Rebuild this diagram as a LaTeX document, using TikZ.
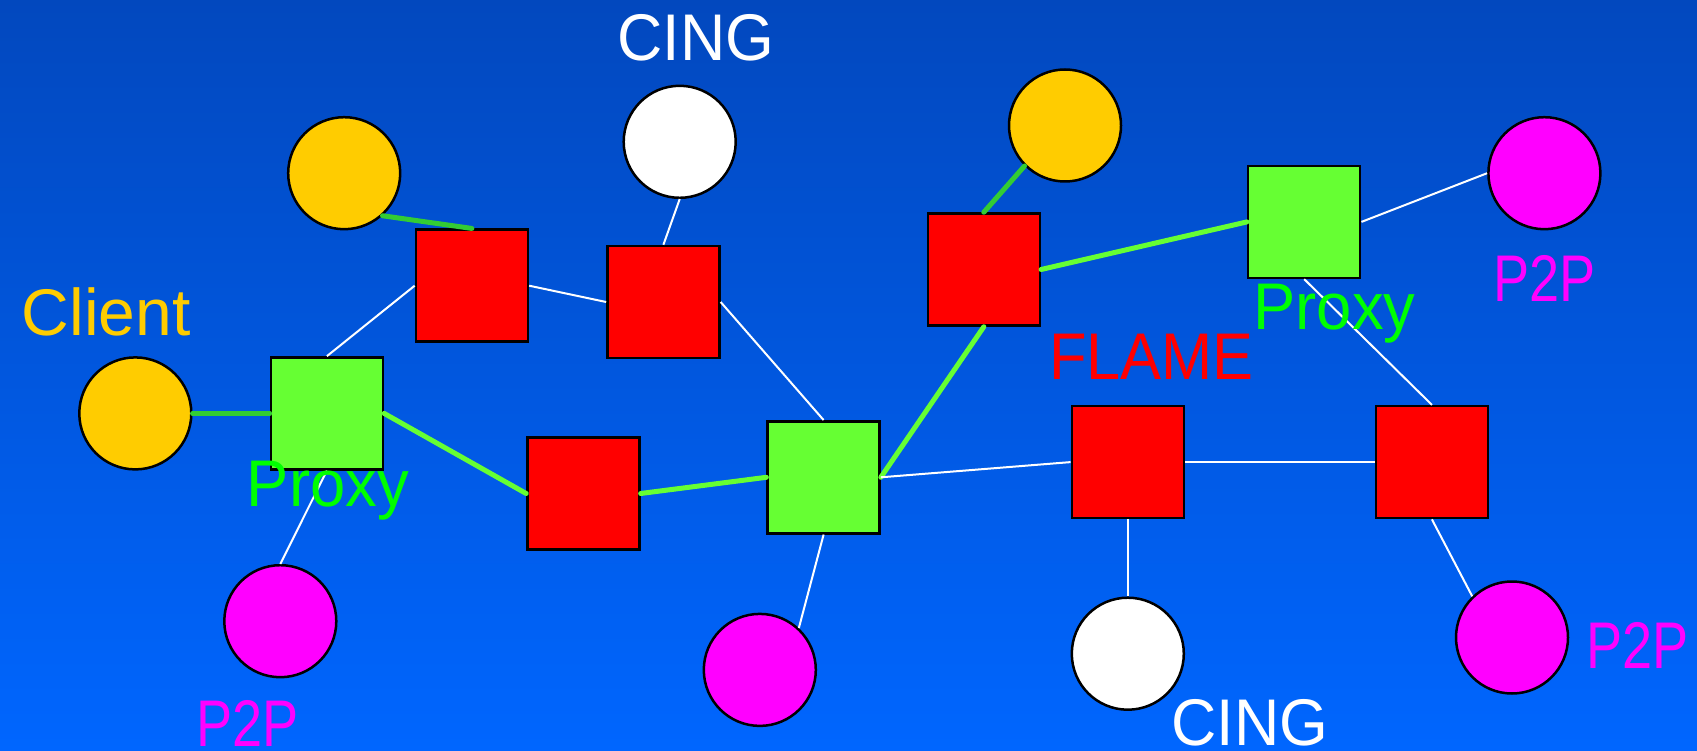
\documentclass[tikz,border=0pt]{standalone}
\usepackage{fontspec}
\usepackage{graphicx}
\setmainfont{Liberation Sans}
\definecolor{bgtop}{RGB}{2,72,190}
\definecolor{bgbot}{RGB}{0,102,255}
\definecolor{yel}{RGB}{255,204,0}
\definecolor{mag}{RGB}{255,0,255}
\definecolor{grn}{RGB}{102,255,51}
\definecolor{dgrn}{RGB}{51,204,51}
\definecolor{txtgrn}{RGB}{0,255,0}
\tikzset{
  circ/.style={circle,draw=black,line width=2.5pt,minimum size=112pt,inner sep=0pt},
  sq/.style={rectangle,draw=black,line width=2.5pt,minimum width=112pt,minimum height=112pt,inner sep=0pt},
  wl/.style={draw=white,line width=2pt},
  gl/.style={draw=grn,line width=5pt,line cap=round},
  dgl/.style={draw=dgrn,line width=5pt,line cap=round},
  lbl/.style={font=\fontsize{66}{70}\selectfont,inner sep=0pt}
}
\begin{document}
\begin{tikzpicture}[x=1pt,y=-1pt]
\shade[top color=bgtop,bottom color=bgbot] (0,0) rectangle (1697,751);
\useasboundingbox (0,0) rectangle (1697,751);
% nodes
\node[circ,fill=yel] (client) at (135.3,413.4) {};
\node[sq,fill=grn] (p1) at (326.9,413.4) {};
\node[circ,fill=yel] (ytl) at (344.2,173.2) {};
\node[sq,fill=red] (r1) at (471.9,285.7) {};
\node[circ,fill=white] (cingt) at (679.7,141.8) {};
\node[sq,fill=red] (r2) at (663.4,302.0) {};
\node[sq,fill=red] (r3) at (583.4,493.5) {};
\node[sq,fill=grn] (gc) at (823.6,477.3) {};
\node[circ,fill=mag] (mbl) at (280.3,621.2) {};
\node[circ,fill=mag] (mbc) at (759.8,669.9) {};
\node[circ,fill=yel] (ytr) at (1065.0,125.5) {};
\node[sq,fill=red] (r4) at (983.8,269.5) {};
\node[sq,fill=grn] (gr) at (1304.2,221.9) {};
\node[circ,fill=mag] (mtr) at (1544.4,173.2) {};
\node[sq,fill=red] (r5) at (1127.8,462.1) {};
\node[sq,fill=red] (r6) at (1431.9,462.1) {};
\node[circ,fill=white] (wb) at (1127.8,653.7) {};
\node[circ,fill=mag] (mbr) at (1512.0,637.5) {};
% connectors
\draw[dgl] (client.east) -- (p1.west);
\draw[dgl] (ytl.-48) -- (r1.north);
\draw[wl] (p1.north) -- (r1.west);
\draw[wl] (r1.east) -- (r2.west);
\draw[wl] (cingt.south) -- (r2.north);
\draw[wl] (r2.east) -- (gc.north);
\draw[gl] (p1.east) -- (r3.west);
\draw[gl] (r3.east) -- (gc.west);
\draw[wl] (p1.south) -- (mbl.north);
\draw[wl] (gc.south) -- (mbc.47);
\draw[gl] (gc.east) -- (r4.south);
\draw[dgl] (r4.north) -- (ytr.-135);
\draw[gl] (r4.east) -- (gr.west);
\draw[wl] (gr.east) -- (mtr.west);
\draw[wl] (gr.south) -- (r6.north);
\draw[wl] (gc.east) -- (r5.west);
\draw[wl] (r5.east) -- (r6.west);
\draw[wl] (r5.south) -- (wb.north);
\draw[wl] (r6.south) -- (mbr.134);
% labels
\node[lbl,text=white] (tcing1) at (695.9,37.9) {\scalebox{0.95}[1]{CING}};
\node[lbl,text=yel] (tclient) at (106.1,311.7) {Client};
\node[lbl,text=txtgrn] (tproxy1) at (327.9,490.3) {\scalebox{0.96}[1]{Proxy}};
\node[lbl,text=mag] (tp2p1) at (247.8,723) {\scalebox{0.82}[1]{P2P}};
\node[lbl,text=red] (tflame) at (1151.6,357.2) {\scalebox{0.93}[1]{FLAME}};
\node[lbl,text=txtgrn] (tproxy2) at (1334.5,313.9) {\scalebox{0.96}[1]{Proxy}};
\node[lbl,text=mag] (tp2p2) at (1544.4,278.2) {\scalebox{0.82}[1]{P2P}};
\node[lbl,text=white] (tcing2) at (1250,723) {\scalebox{0.95}[1]{CING}};
\node[lbl,text=mag] (tp2p3) at (1637.5,645) {\scalebox{0.82}[1]{P2P}};
\end{tikzpicture}
\end{document}
